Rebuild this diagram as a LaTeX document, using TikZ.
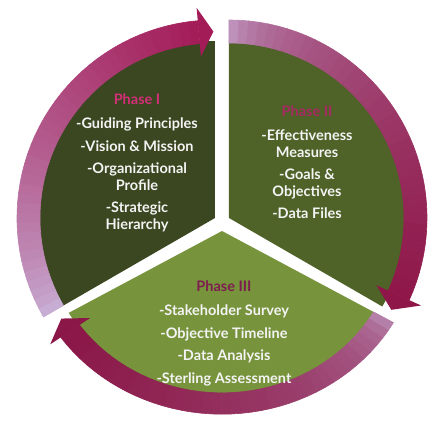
\documentclass[tikz,border=0pt]{standalone}
\usepackage{fontspec}
\setmainfont{Lato}
\usetikzlibrary{positioning}

\definecolor{sectorI}{HTML}{3A4720}
\definecolor{sectorII}{HTML}{4F6228}
\definecolor{sectorIII}{HTML}{77933C}
\definecolor{ringtail}{HTML}{C9B2D8}
\definecolor{ringI}{HTML}{A31C58}
\definecolor{ringII}{HTML}{8E1648}
\definecolor{ringIII}{HTML}{8A1747}
\definecolor{headI}{HTML}{D42E78}
\definecolor{headII}{HTML}{A52A62}
\definecolor{headIII}{HTML}{7D1E4E}
\definecolor{itemtext}{HTML}{F4F4F4}

\tikzset{
  phasetext/.style={align=center, text=itemtext, anchor=north, inner sep=0pt,
    font=\bfseries\fontsize{14.5}{16.5}\selectfont},
}

% ring from tail to head: #1 tail angle, #2 head base, #3 tip, #4 fade exponent, #5 head colour
\newcommand{\phasering}[5]{%
  \foreach \k in {0,...,39}{%
    \pgfmathsetmacro{\ra}{#1+(#2-#1)*\k/40}%
    \pgfmathsetmacro{\rb}{#1+(#2-#1)*(\k+1)/40}%
    \pgfmathtruncatemacro{\rp}{100*((\k+0.5)/40)^#4}%
    \fill[#5!\rp!ringtail, draw=#5!\rp!ringtail, line width=0.6pt]
      (\ra:175) arc[start angle=\ra, end angle=\rb, radius=175]
      -- (\rb:198) arc[start angle=\rb, end angle=\ra, radius=198] -- cycle;
  }%
  \fill[#5] (#2:162) -- (#3:186.5) -- (#2:211) -- cycle;
}

\begin{document}
\begin{tikzpicture}[x=1pt, y=1pt]
\useasboundingbox (-222,-202) rectangle (212,222);

% Phase I
\begin{scope}[shift={(-7,4)}]
  \fill[sectorI] (0,0) -- (90:177) arc[start angle=90, end angle=210, radius=177] -- cycle;
  \phasering{210}{95}{90.5}{0.7}{ringI}
\end{scope}

% Phase II
\begin{scope}[shift={(7,4)}]
  \fill[sectorII] (0,0) -- (-30:177) arc[start angle=-30, end angle=90, radius=177] -- cycle;
  \phasering{90}{-24.5}{-29.5}{0.35}{ringII}
\end{scope}

% Phase III
\begin{scope}[shift={(0,-9)}, yscale=0.925]
  \fill[sectorIII] (0,0) -- (210:177) arc[start angle=210, end angle=330, radius=177] -- cycle;
  \phasering{-30}{-144.5}{-149.5}{0.25}{ringIII}
\end{scope}

% Texts
\node[phasetext] (phaseI) at (-85,128) {{\color{headI}Phase I}\\[7.5pt]
  -Guiding Principles\\[6pt] -Vision \& Mission\\[6pt]
  -Organizational\\Profile\\[6pt] -Strategic\\Hierarchy};
\node[phasetext] (phaseII) at (85,116) {{\color{headII}Phase II}\\[7.5pt]
  -Effectiveness\\Measures\\[6pt] -Goals \&\\Objectives\\[6pt] -Data Files};
\node[phasetext] (phaseIII) at (2,-59) {{\color{headIII}Phase III}\\[7.5pt]
  -Stakeholder Survey\\[6pt] -Objective Timeline\\[6pt]
  -Data Analysis\\[6pt] -Sterling Assessment};
\end{tikzpicture}
\end{document}
